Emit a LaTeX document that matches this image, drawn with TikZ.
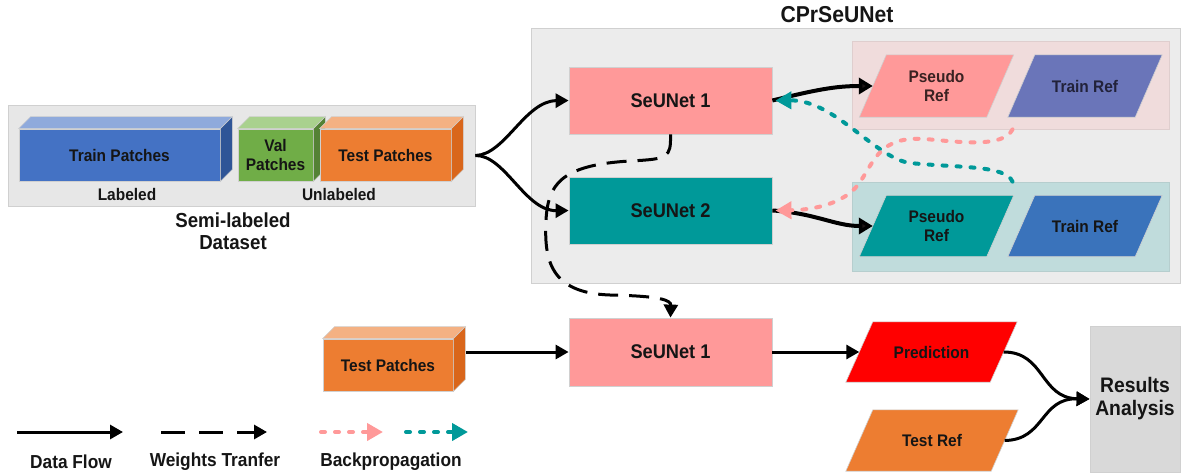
\documentclass[tikz,border=0pt]{standalone}
\usepackage{fontspec}
\setmainfont{Liberation Sans}[FakeStretch=0.92]
\usetikzlibrary{arrows.meta,calc}
\pgfdeclarelayer{boxes}\pgfdeclarelayer{para}
\pgfsetlayers{boxes,para,main}
\definecolor{edge}{HTML}{D0D0D0}
\definecolor{dsgray}{HTML}{E7E7E7}
\definecolor{cpgray}{HTML}{ECECEC}
\definecolor{pinkc}{HTML}{FF9999}
\definecolor{tealc}{HTML}{009999}
\definecolor{panpink}{HTML}{F0DCDC}
\definecolor{panteal}{HTML}{C0DCDC}
\definecolor{slate}{HTML}{6A75B9}
\definecolor{blueref}{HTML}{3A73BB}
\definecolor{bfront}{HTML}{4472C4}\definecolor{btop}{HTML}{8FAADC}\definecolor{bside}{HTML}{2F5597}
\definecolor{gfront}{HTML}{70AD47}\definecolor{gtop}{HTML}{A9D18E}\definecolor{gside}{HTML}{548235}
\definecolor{ofront}{HTML}{ED7D31}\definecolor{otop}{HTML}{F4B183}\definecolor{oside}{HTML}{D9661B}
\definecolor{resgray}{HTML}{D9D9D9}
\definecolor{arrowdark}{HTML}{1E1616}
\definecolor{txt}{HTML}{151515}
\definecolor{txtpink}{HTML}{3A2222}
\definecolor{txtblue}{HTML}{22223A}
\newcommand{\cubedeco}[3]{%
 \filldraw[fill=#2, draw=edge, line width=0.6pt] (#1.north west) -- ++(12,-12) -- ($(#1.north east)+(12,-12)$) -- (#1.north east) -- cycle;
 \filldraw[fill=#3, draw=edge, line width=0.6pt] (#1.north east) -- ++(12,-12) -- ($(#1.south east)+(12,-12)$) -- (#1.south east) -- cycle;}
\newcommand{\paradeco}[3]{%
 \begin{pgfonlayer}{para}
 \filldraw[fill=#2, draw=edge, line width=0.6pt] ([xshift=-#3/2]#1.south west) -- ([xshift=-#3/2]#1.south east) -- ([xshift=#3/2]#1.north east) -- ([xshift=#3/2]#1.north west) -- cycle;
 \end{pgfonlayer}}
\tikzset{
 lbl/.style={font=\fontsize{16.8}{19}\selectfont\bfseries, text=txt, align=center, inner sep=0pt},
 big/.style={font=\fontsize{19.8}{22}\selectfont\bfseries},
 leg/.style={font=\fontsize{18.8}{20}\selectfont\bfseries},
 box/.style={lbl, draw=edge, line width=0.8pt},
 flow/.style={line width=3pt, -{Triangle[length=13pt,width=14pt]}},
 wt/.style={line width=3pt, dash pattern=on 20pt off 11pt, -{Triangle[length=13pt,width=14pt]}},
 fat/.style={line width=4pt, -{Triangle[length=14pt,width=16pt,fill=arrowdark]}},
 pinkdot/.style={draw=pinkc, line width=4pt, line cap=round, dash pattern=on 4pt off 10pt, -{Triangle[length=16pt,width=17pt]}},
 tealdot/.style={draw=tealc, line width=4pt, line cap=round, dash pattern=on 4pt off 10pt, -{Triangle[length=16pt,width=17pt]}},
}
\begin{document}
\begin{tikzpicture}[x=1pt,y=-1pt]
\useasboundingbox (0,0) rectangle (1184,474);
% background boxes
\begin{pgfonlayer}{boxes}
\node[box, fill=dsgray, minimum width=467pt, minimum height=101pt] (ds) at (241.5,155.5) {};
\node[box, fill=cpgray, minimum width=649pt, minimum height=255pt] (cp) at (855.5,155.5) {};
\node[box, fill=panpink, draw=panpink!85!gray, minimum width=317pt, minimum height=88pt] (tp) at (1010.5,85) {};
\node[box, fill=panteal, draw=panteal!85!gray, minimum width=317pt, minimum height=89pt] (bp) at (1010.5,226.5) {};
\end{pgfonlayer}
% dataset cubes
\node[box, fill=bfront, minimum width=201pt, minimum height=52pt] (trp) at (119.5,155) {Train Patches};
\cubedeco{trp}{btop}{bside}
\node[box, fill=gfront, minimum width=75pt, minimum height=52pt] (vp) at (275.5,155) {Val\\Patches};
\cubedeco{vp}{gtop}{gside}
\node[box, fill=ofront, minimum width=131pt, minimum height=52pt] (tsp) at (385.5,155) {Test Patches};
\cubedeco{tsp}{otop}{oside}
\node[lbl] (lab) at (127,194) {Labeled};
\node[lbl] (unlab) at (339,194) {Unlabeled};
\node[lbl, font=\fontsize{20.3}{22}\selectfont\bfseries] (dsname) at (233,231) {Semi-labeled\\Dataset};
% title
\node[lbl, font=\fontsize{23}{24}\selectfont\bfseries] (title) at (837,15) {CPrSeUNet};
% networks
\node[box, big, fill=pinkc, minimum width=203pt, minimum height=67pt] (s1) at (670.5,100.5) {SeUNet 1};
\node[box, big, fill=tealc, minimum width=203pt, minimum height=67pt] (s2) at (670.5,210.5) {SeUNet 2};
\node[box, big, fill=pinkc, minimum width=203pt, minimum height=68pt] (s1b) at (670.5,352) {SeUNet 1};
% parallelograms
\node[lbl, text=txtpink, minimum width=127pt, minimum height=62pt] (ps1) at (936.5,86) {Pseudo\\Ref};
\paradeco{ps1}{pinkc}{27}
\node[lbl, text=txtblue, minimum width=127pt, minimum height=62pt] (tr1) at (1085,86) {Train Ref};
\paradeco{tr1}{slate}{27}
\node[lbl, minimum width=127pt, minimum height=61pt] (ps2) at (936.5,226) {Pseudo\\Ref};
\paradeco{ps2}{tealc}{27}
\node[lbl, minimum width=127pt, minimum height=61pt] (tr2) at (1085,226) {Train Ref};
\paradeco{tr2}{blueref}{27}
% bottom row
\node[box, fill=ofront, minimum width=130pt, minimum height=52pt] (tpb) at (388,365) {Test Patches};
\cubedeco{tpb}{otop}{oside}
\node[lbl, minimum width=144pt, minimum height=60pt] (pred) at (931.5,352) {Prediction};
\paradeco{pred}{red}{27}
\node[lbl, minimum width=145pt, minimum height=61pt] (tref) at (932,440.5) {Test Ref};
\paradeco{tref}{ofront}{27}
\node[box, fill=resgray, minimum width=90pt, minimum height=146pt, font=\fontsize{21}{23}\selectfont\bfseries] (res) at (1135,399) {Results\\Analysis};
% data flow
\draw[flow] (ds.east) .. controls (505,155) and (525,101) .. (s1.west);
\draw[flow] (ds.east) .. controls (505,155) and (525,211) .. (s2.west);
\draw[fat] (s1.east) .. controls (815,90) and (835,86) .. (ps1.west);
\draw[fat] (s2.east) .. controls (815,213) and (835,226) .. (ps2.west);
\draw[flow] ([shift={(13,-13)}]tpb.east) -- (s1b.west);
\draw[flow] (s1b.east) -- (pred.west);
\draw[flow] (pred.east) .. controls (1045,352) and (1040,398) .. (res.west);
\draw[flow] (tref.east) .. controls (1045,440) and (1040,398) .. (res.west);
% backpropagation
\draw[tealdot] ([xshift=2pt]bp.north) .. controls (1005,165) and (960,168) .. (910,163) .. controls (875,158) and (835,100) .. ([xshift=3pt]s1.east);
\draw[pinkdot] ([xshift=2pt]tp.south) .. controls (1003,148) and (960,142) .. (925,139) .. controls (880,136) and (875,160) .. (860,182) .. controls (845,205) and (810,210) .. ([xshift=3pt]s2.east);
% weights transfer
\draw[wt] (s1.south) .. controls (671,158) and (668,159) .. (630,161) .. controls (560,165) and (548,185) .. (546,220) .. controls (544,260) and (550,293) .. (610,295) .. controls (660,296) and (671,300) .. (s1b.north);
% legend
\coordinate (l1a) at (17,432); \coordinate (l1b) at (123,432);
\coordinate (l2a) at (161,432); \coordinate (l2b) at (267,432);
\coordinate (l3a) at (321,432); \coordinate (l3b) at (383,432);
\coordinate (l4a) at (406,432); \coordinate (l4b) at (468,432);
\draw[flow] (l1a) -- (l1b);
\draw[wt, dash pattern=on 24pt off 14pt] (l2a) -- (l2b);
\draw[pinkdot] (l3a) -- (l3b);
\draw[tealdot] (l4a) -- (l4b);
\node[lbl, leg] (lg1) at (71,462) {Data Flow};
\node[lbl, leg] (lg2) at (215,462) {Weights Tranfer};
\node[lbl, leg] (lg3) at (391,462) {Backpropagation};
\end{tikzpicture}
\end{document}
